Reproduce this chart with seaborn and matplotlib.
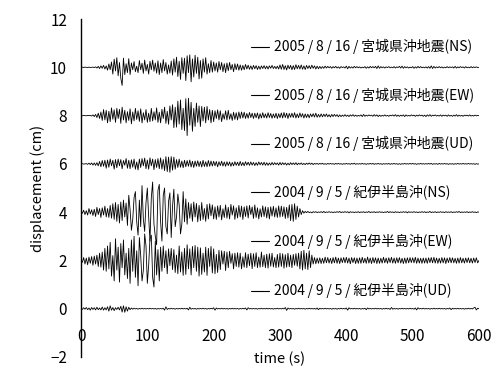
import numpy as np
import pandas as pd
import matplotlib
matplotlib.use("Agg")
import matplotlib.pyplot as plt
import seaborn as sns

sns.set_theme(style="white")
plt.rcParams['font.family'] = ['Noto Sans CJK JP', 'DejaVu Sans']

# ---------------- data (displacement in 1/100 cm, sampled every 2 s) ----------------
DT = 2.0
SL = "\u2009/\u2009"
labels = ["2005" + SL + "8" + SL + "16" + SL + "宮城県沖地震(NS)",
          "2005" + SL + "8" + SL + "16" + SL + "宮城県沖地震(EW)",
          "2005" + SL + "8" + SL + "16" + SL + "宮城県沖地震(UD)",
          "2004" + SL + "9" + SL + "5" + SL + "紀伊半島沖(NS)",
          "2004" + SL + "9" + SL + "5" + SL + "紀伊半島沖(EW)",
          "2004" + SL + "9" + SL + "5" + SL + "紀伊半島沖(UD)"]
offsets = [10, 8, 6, 4, 2, 0]
label_y = [10.86, 8.84, 6.84, 4.82, 2.80, 0.74]

miyagi_ns = [
    0, 1, -1, 1, 0, -1, 1, -1, 0, 1,
    -1, 2, -3, 4, -5, 6, -4, 8, -7, 6,
    -12, 14, -10, 22, -28, 34, -15, 40, -35, 20,
    -45, -75, 38, -30, 15, -22, 36, -30, 18, -10,
    24, -18, 5, -22, 28, -10, 17, -25, 30, -15,
    12, -28, 25, -10, 30, -16, 18, -24, 27, -30,
    18, -22, 32, -15, 20, -28, 10, -24, 26, -32,
    35, -20, 42, -38, 25, -50, 40, -25, 38, -55,
    48, -22, 52, -60, 35, -40, 50, -25, 42, -48,
    28, -45, 35, -20, 40, -28, 15, -22, 28, -20,
    22, -15, 18, -20, 24, -10, 20, -18, 15, -22,
    18, -14, 20, -10, 12, -18, 15, -10, 14, -12,
    10, -12, 8, -10, 12, -7, 9, -8, 6, -9,
    8, -6, 7, -9, 5, -8, 6, -5, 7, -6,
    5, -7, 6, -4, 8, -5, 4, -6, 5, -7,
    10, -8, 12, -9, 7, -11, 9, -6, 8, -10,
    7, -9, 11, -6, 8, -7, 10, -8, 6, -9,
    8, -5, 7, -6, 9, -4, 6, -7, 5, -6,
    4, -5, 3, -4, 5, -3, 4, -2, 3, -4,
    3, -2, 4, -3, 2, -4, 3, -1, 2, -3,
    5, -6, 4, -3, 2, -3, 4, -2, 3, -2,
    2, -3, 1, -2, 3, -4, 2, -3, 4, -2,
    3, -2, 4, -5, 6, -4, 3, -2, 2, -3,
    2, -1, 3, -2, 1, -2, 3, -3, 2, -1,
    4, -3, 5, -4, 3, -2, 2, -3, 1, -2,
    3, -4, 2, -3, 4, -2, 3, -2, 1, -2,
    2, -3, 3, -4, 6, -5, 4, -3, 2, -2,
    3, -2, 2, -3, 1, -2, 3, -2, 2, -1,
    2, -3, 4, -3, 2, -2, 3, -1, 2, -3,
    3, -2, 1, -2, 3, -2, 2, -1, 2, -1,
    0]

miyagi_ew = [
    0, -1, 1, 0, -1, 1, 0, 1, -2, 3,
    -4, 5, -8, 10, -12, 15, -20, 25, -18, 22,
    -30, 18, -25, 32, -15, 24, -28, 30, -12, 26,
    -32, 35, -18, 22, -30, 16, -20, 28, -34, 15,
    -22, 30, -16, 20, -24, 28, -30, 12, -18, 25,
    -28, 10, -25, 30, -22, 16, -18, 32, -28, 14,
    -30, 26, -12, 35, -32, 18, -36, 40, -18, 45,
    -50, 35, -48, 60, -35, 65, -58, 30, -62, 70,
    -83, 72, -40, 55, -65, 30, -45, 52, -28, 40,
    -45, 38, -22, 35, -30, 38, -18, 25, -30, 22,
    -25, 20, -12, 24, -18, 20, -25, 8, -15, 20,
    -18, 22, -15, 8, -20, 14, -16, 12, -18, 15,
    -12, 15, -10, 14, -12, 9, -11, 13, -8, 10,
    -12, 10, -9, 11, -14, 8, -10, 12, -9, 7,
    -10, 12, -8, 9, -11, 7, -9, 10, -12, 8,
    -9, 11, -10, 13, -8, 10, -12, 9, -7, 10,
    -8, 12, -10, 7, -9, 11, -6, 8, -10, 7,
    -8, 6, -9, 7, -5, 8, -6, 10, -7, 5,
    -6, 7, -5, 6, -4, 7, -5, 4, -6, 5,
    -4, 5, -3, 4, -5, 3, -4, 2, -3, 4,
    -3, 2, -4, 3, -2, 4, -3, 2, -3, 1,
    -2, 3, -4, 5, -3, 2, -2, 3, -1, 2,
    -3, 4, -2, 3, -4, 2, -3, 1, -2, 3,
    -2, 1, -3, 2, -1, 3, -2, 4, -3, 2,
    -3, 2, -2, 3, -4, 3, -2, 1, -2, 3,
    -1, 2, -3, 2, -2, 3, -1, 2, -3, 2,
    -4, 3, -2, 4, -3, 2, -1, 3, -2, 1,
    -2, 3, -3, 2, -1, 2, -3, 3, -2, 1,
    -3, 2, -2, 4, -3, 2, -2, 1, -3, 2,
    -1, 2, -2, 3, -2, 1, -2, 2, -1, 1,
    0]

miyagi_ud = [
    0, 1, -1, 0, 1, -2, 3, -3, 4, -5,
    4, -6, 5, -8, 10, -12, 14, -10, 15, -18,
    16, -14, 20, -8, 15, -22, 18, -16, 20, -8,
    18, -20, 14, -6, 22, -18, 15, -20, 17, -14,
    20, -22, 8, -25, 20, -15, 22, -8, 24, -20,
    16, -22, 25, -8, 20, -24, 18, -15, 22, -20,
    25, -22, 18, -28, 30, -32, 28, -35, 30, -26,
    28, -22, 18, -15, 20, -14, 12, -16, 15, -12,
    14, -10, 16, -13, 11, -15, 12, -10, 13, -11,
    10, -13, 15, -11, 9, -12, 14, -10, 12, -9,
    11, -8, 10, -12, 9, -7, 11, -9, 8, -10,
    9, -7, 8, -10, 6, -8, 9, -6, 7, -8,
    10, -7, 6, -8, 9, -5, 7, -6, 8, -5,
    6, -7, 5, -6, 8, -4, 6, -5, 7, -6,
    5, -6, 4, -5, 6, -4, 5, -3, 4, -5,
    6, -4, 5, -3, 4, -5, 3, -4, 5, -3,
    4, -3, 5, -4, 3, -2, 4, -3, 2, -3,
    3, -2, 4, -2, 3, -3, 2, -1, 2, -2,
    2, -1, 3, -2, 1, -2, 2, -1, 2, -1,
    1, -2, 2, -1, 2, -1, 1, -2, 1, -1,
    2, -1, 1, -2, 2, -1, 3, -2, 1, -1,
    1, -1, 2, -1, 1, -2, 1, -1, 2, -1,
    2, -2, 1, -1, 2, -1, 1, -2, 1, -1,
    1, -1, 2, -2, 1, -1, 2, -1, 1, -2,
    1, -2, 1, -1, 2, -1, 1, -1, 2, -1,
    2, -1, 1, -2, 1, -1, 2, -1, 1, -1,
    1, -1, 2, -1, 2, -2, 1, -1, 1, -2,
    2, -1, 1, -1, 2, -1, 1, -2, 1, -1,
    1, -2, 1, -1, 2, -1, 1, -1, 2, -1,
    1, -1, 2, -1, 1, -1, 1, -2, 1, -1,
    0]

kii_ns = [
    2, -5, 8, -10, 6, -12, 15, -8, 10, -14,
    12, -18, 20, -10, 15, -22, 18, -12, 25, -20,
    15, -22, 28, -25, 35, -30, 40, -38, 32, -45,
    42, -35, 50, -20, 38, -55, 70, 10, -75, -30,
    60, 85, -40, -95, 50, -60, 110, -30, -80, 40,
    100, -20, -120, 60, 125, -50, -100, -135, 90, 115,
    -40, -120, 70, 100, -60, -90, 45, 80, -105, 25,
    95, -60, -20, 75, 30, -90, -50, 85, -40, 55,
    -50, 40, -25, 35, -38, 42, -20, 36, -40, 28,
    -35, 40, -30, 15, -38, 32, -28, 35, -15, 30,
    -28, 22, -30, 26, -20, 28, -32, 14, -22, 30,
    -25, 20, -28, 32, -12, 26, -30, 18, -24, 28,
    -20, 25, -30, 22, -18, 26, -24, 28, -10, 22,
    -26, 30, -22, 18, -28, 14, -20, 26, -18, 22,
    -24, 20, -28, 22, -16, 24, -20, 18, -22, 26,
    -20, 25, -18, 22, -26, 20, -24, 30, -35, 32,
    -38, 35, -30, 25, -20, 15, -10, 6, -4, 3,
    -2, 3, -2, 1, -3, 2, -1, 2, -2, 1,
    -1, 2, -2, 3, -2, 1, -1, 2, -1, 1,
    -2, 1, -1, 2, -1, 3, -2, 1, -1, 2,
    -1, 2, -3, 2, -1, 1, -2, 1, -1, 2,
    -2, 1, -1, 2, -2, 1, -1, 3, -2, 1,
    -1, 2, -2, 1, -1, 2, -1, 1, -2, 1,
    -1, 3, -2, 2, -1, 1, -2, 2, -1, 1,
    -2, 1, -1, 2, -1, 2, -3, 2, -1, 1,
    -1, 2, -1, 1, -2, 1, -1, 2, -1, 2,
    -2, 1, -1, 3, -2, 1, -1, 2, -2, 1,
    -1, 2, -1, 1, -2, 2, -1, 1, -1, 2,
    -2, 1, -1, 2, -1, 3, -2, 1, -1, 1,
    -1, 2, -2, 1, -1, 2, -1, 1, -2, 1,
    0]

kii_ew = [
    3, -8, 12, -15, 10, -18, 14, -12, 16, -20,
    18, -15, 22, -25, 30, -28, 35, -40, 50, -45,
    60, -35, 75, -65, 20, -85, 90, -40, 55, -90,
    70, -30, 85, -60, 30, -75, 50, -95, 85, -45,
    100, -70, 40, -105, 95, 20, -85, -40, 110, 60,
    -95, -20, 90, 105, -70, -110, 80, -60, 45, -85,
    55, -45, 60, -30, 40, -55, 48, -22, 50, -38,
    45, -50, 22, -55, 60, -48, 35, -62, 50, -58,
    65, -35, 48, -60, 58, -30, 62, -45, 55, -65,
    52, -58, 30, -48, 55, -62, 50, -25, 58, -52,
    48, -55, 25, -50, 42, -38, 40, -15, 38, -42,
    35, -30, 38, -12, 28, -35, 30, -25, 32, -28,
    30, -35, 15, -28, 32, -30, 26, -22, 30, -34,
    28, -25, 32, -30, 14, -28, 35, -26, 22, -30,
    26, -32, 28, -24, 30, -27, 12, -30, 25, -28,
    30, -25, 28, -32, 24, -28, 30, -26, 22, -30,
    25, -20, 28, -24, 30, -35, 38, -40, 42, -35,
    30, -38, 40, -30, 22, -15, 12, -14, 10, -12,
    11, -13, 9, -12, 14, -10, 12, -11, 9, -13,
    12, -10, 14, -12, 10, -13, 11, -9, 12, -10,
    13, -11, 10, -14, 12, -9, 11, -13, 10, -12,
    11, -12, 13, -10, 9, -12, 14, -11, 10, -13,
    12, -10, 11, -13, 10, -12, 9, -11, 13, -10,
    10, -12, 11, -9, 13, -11, 10, -12, 11, -10,
    12, -11, 9, -13, 10, -12, 11, -10, 12, -9,
    11, -10, 13, -12, 10, -11, 9, -12, 10, -11,
    10, -12, 11, -9, 12, -10, 13, -11, 10, -12,
    9, -11, 12, -10, 11, -13, 10, -9, 12, -10,
    11, -10, 9, -12, 10, -11, 12, -10, 9, -11,
    10, -9, 11, -10, 9, -11, 10, -9, 11, -10,
    0]

kii_ud = [
    1, -3, 4, -2, 5, -4, 3, -6, 5, -3,
    4, -5, 6, -4, 3, -5, 7, -6, 4, -5,
    8, -10, 12, -6, 5, -8, 4, -3, 6, -5,
    10, -14, 12, -15, 8, -10, 6, -4, 3, -2,
    2, -1, 1, -2, 1, -1, 2, -1, 1, -1,
    1, -1, 2, -1, 1, -1, 1, -2, 1, -1,
    1, -1, 2, -6, 8, -3, 1, -1, 2, -1,
    1, -2, 1, -1, 1, -1, 2, -1, 1, -1,
    2, -5, 6, -2, 1, -1, 1, -2, 1, -1,
    1, -1, 2, -1, 1, -2, 1, -1, 2, -1,
    4, -6, 3, -1, 1, -1, 2, -1, 1, -1,
    1, -2, 1, -1, 2, -1, 1, -1, 1, -2,
    1, -1, 2, -1, 3, -5, 4, -1, 1, -1,
    1, -1, 1, -2, 1, -1, 2, -1, 1, -1,
    2, -1, 1, -1, 1, -2, 1, -1, 2, -1,
    1, -1, 2, -1, 5, -7, 3, -1, 1, -1,
    1, -2, 1, -1, 2, -1, 1, -1, 1, -2,
    1, -1, 2, -1, 1, -1, 1, -2, 3, -4,
    2, -1, 1, -1, 2, -1, 1, -1, 1, -2,
    1, -1, 1, -2, 1, -1, 2, -1, 1, -1,
    3, -6, 4, -1, 1, -1, 2, -1, 1, -1,
    1, -2, 1, -1, 2, -4, 3, -1, 1, -1,
    1, -1, 2, -1, 1, -1, 1, -2, 1, -1,
    2, -1, 1, -3, 5, -2, 1, -1, 1, -2,
    1, -1, 2, -1, 1, -1, 1, -1, 2, -1,
    1, -2, 3, -5, 4, -1, 1, -1, 2, -1,
    1, -1, 1, -2, 1, -1, 2, -1, 1, -1,
    2, -1, 1, -1, 1, -2, 1, -1, 3, -4,
    2, -1, 1, -1, 2, -1, 1, -1, 1, -2,
    1, -1, 2, -1, 1, -1, 3, 6, -5, 2,
    0]

series = [miyagi_ns, miyagi_ew, miyagi_ud, kii_ns, kii_ew, kii_ud]

x_ticks = [0, 100, 200, 300, 400, 500, 600]
y_ticks = [-2, 0, 2, 4, 6, 8, 10, 12]

# ---------------- build a long table ----------------
frames = []
for lab, off, vals in zip(labels, offsets, series):
    v = np.asarray(vals, dtype=float) / 100.0
    t = np.arange(len(v)) * DT
    frames.append(pd.DataFrame({"time": t, "disp": v + off, "trace": lab}))
df = pd.concat(frames, ignore_index=True)

# ---------------- figure ----------------
fig = plt.figure(figsize=(5.0, 3.78), dpi=100)
ax = fig.add_axes([0.162, 0.0556, 0.796, 0.894])

sns.lineplot(data=df, x="time", y="disp", hue="trace", units="trace",
             estimator=None, palette=["black"] * len(labels), linewidth=0.6,
             legend=False, ax=ax)

ax.set_xlim(0, 600)
ax.set_ylim(-2, 12)

for s in ["top", "right"]:
    ax.spines[s].set_visible(False)
ax.spines["left"].set_color("black")
ax.spines["left"].set_linewidth(1.0)
ax.spines["bottom"].set_position(("data", -0.7))
ax.spines["bottom"].set_visible(False)

ax.set_xticks(x_ticks)
ax.set_yticks(y_ticks)
ax.set_yticks([-2, 12], minor=True)
ax.tick_params(axis="x", length=0, pad=1.5, labelsize=11, colors="black")
ax.tick_params(axis="y", which="major", length=0, pad=10, labelsize=11, colors="black")
ax.tick_params(axis="y", which="minor", length=5, width=1, direction="in", color="black")

ax.set_xlabel("time (s)", fontsize=10.5, labelpad=5, color="black")
ax.set_ylabel("displacement (cm)", fontsize=10.5, labelpad=4, color="black")

# trace labels with a short line marker
for lab, ly in zip(labels, label_y):
    ax.plot([256, 284], [ly, ly], color="black", linewidth=0.8)
    ax.text(291, ly, lab, fontsize=10, va="center", ha="left", color="black")

fig.savefig("out.png", dpi=100)
